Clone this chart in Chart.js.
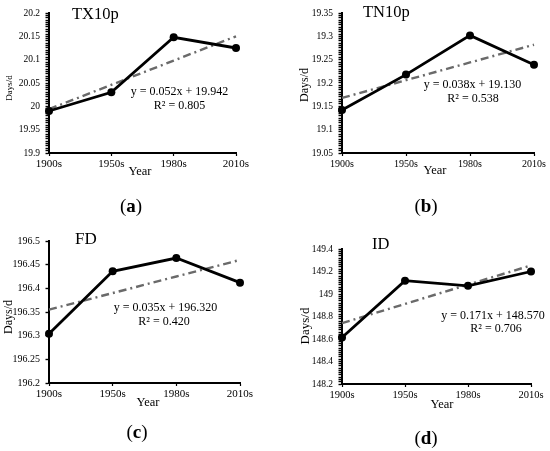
<!DOCTYPE html>
<html>
<head>
<meta charset="utf-8">
<script src="https://cdn.jsdelivr.net/npm/chart.js@4.4.1/dist/chart.umd.min.js"></script>
<style>
  body { margin: 0; background: #fff; width: 550px; height: 451px; position: relative; overflow: hidden; }
  canvas { position: absolute; }
  .cap { position: absolute; font: 19px "Liberation Serif", serif; transform: translate(-50%, -50%); white-space: nowrap; color: #000; }
</style>
</head>
<body>
<canvas id="a" width="275" height="225" style="left:0;top:0"></canvas>
<canvas id="b" width="275" height="225" style="left:275px;top:0"></canvas>
<canvas id="c" width="275" height="226" style="left:0;top:225px"></canvas>
<canvas id="d" width="275" height="226" style="left:275px;top:225px"></canvas>
<div class="cap" style="left:131px;top:206px">(<b>a</b>)</div>
<div class="cap" style="left:426px;top:206px">(<b>b</b>)</div>
<div class="cap" style="left:137px;top:432px">(<b>c</b>)</div>
<div class="cap" style="left:426px;top:438px">(<b>d</b>)</div>
<script>
// data
const decades = ['1900s', '1950s', '1980s', '2010s'];

const tx10p = [19.99, 20.03, 20.148, 20.125];
const tx10pTrend = [19.994, 20.046, 20.098, 20.15];
const tx10pRange = [19.9, 20.2];

const tn10p = [19.142, 19.218, 19.302, 19.239];
const tn10pTrend = [19.168, 19.206, 19.244, 19.282];
const tn10pRange = [19.05, 19.35];

const fd = [196.304, 196.436, 196.464, 196.412];
const fdTrend = [196.355, 196.39, 196.425, 196.46];
const fdRange = [196.2, 196.5];

const id = [148.613, 149.118, 149.073, 149.2];
const idTrend = [148.741, 148.912, 149.083, 149.254];
const idRange = [148.2, 149.4];

const titles = ['TX10p', 'TN10p', 'FD', 'ID'];
const equations = ['y = 0.052x + 19.942', 'y = 0.038x + 19.130', 'y = 0.035x + 196.320', 'y = 0.171x + 148.570'];
const rSquared = ['R² = 0.805', 'R² = 0.538', 'R² = 0.420', 'R² = 0.706'];

const serif = '"Liberation Serif", "Times New Roman", serif';

// draws the in-panel texts (title, equation, axis titles)
const textPlugin = (items) => ({
  id: 'panelText',
  afterDraw(chart) {
    const ctx = chart.ctx;
    ctx.save();
    ctx.fillStyle = '#000';
    ctx.textBaseline = 'middle';
    items.forEach(t => {
      ctx.font = t.size + 'px ' + serif;
      ctx.textAlign = t.align || 'center';
      if (t.rot) {
        ctx.save();
        ctx.translate(t.x, t.y);
        ctx.rotate(-Math.PI / 2);
        ctx.fillText(t.text, 0, 0);
        ctx.restore();
      } else {
        ctx.fillText(t.text, t.x, t.y);
      }
    });
    ctx.restore();
  }
});

function makePanel(canvasId, p) {
  const canvas = document.getElementById(canvasId);
  const W = canvas.width, H = canvas.height;
  const [left, top, right, bottom] = p.area;
  new Chart(canvas, {
    type: 'line',
    data: {
      labels: decades,
      datasets: [
        { data: p.values, borderColor: '#000', backgroundColor: '#000', borderWidth: 2.8,
          pointRadius: 4, pointBorderWidth: 0, tension: 0, clip: false },
        { data: p.trend, borderColor: '#6a6a6a', borderWidth: 2.4, borderDash: [8, 4, 2, 4],
          pointRadius: 0, tension: 0, clip: false }
      ]
    },
    options: {
      responsive: false,
      animation: false,
      events: [],
      layout: { padding: { left: 0, top: top, right: W - right, bottom: 0 } },
      plugins: { legend: { display: false }, tooltip: { enabled: false } },
      scales: {
        x: {
          offset: false,
          grid: { drawOnChartArea: false, tickLength: 3, tickColor: '#000', tickWidth: 1.2 },
          border: { color: '#000', width: 2 },
          ticks: { color: '#000', font: { family: serif, size: p.xFont }, padding: 2, maxRotation: 0, autoSkip: false },
          afterFit(s) { s.height = H - bottom; }
        },
        y: {
          min: p.range[0],
          max: p.range[1],
          grid: { drawOnChartArea: false, tickLength: 3.5, tickColor: '#000', tickWidth: 1.4 },
          border: { color: '#000', width: 2 },
          ticks: {
            stepSize: p.minor,
            autoSkip: false,
            color: '#000',
            padding: 5.5,
            font: { family: serif, size: p.yFont },
            callback(v) {
              const k = v / p.major;
              return Math.abs(k - Math.round(k)) < 1e-6 ? String(+v.toFixed(3)) : '';
            }
          },
          afterFit(s) { s.width = left; }
        }
      }
    },
    plugins: [textPlugin(p.texts)]
  });
}

makePanel('a', {
  values: tx10p, trend: tx10pTrend, range: tx10pRange, major: 0.05, minor: 0.005,
  area: [49, 13, 236, 153], xFont: 11, yFont: 9.5,
  texts: [
    { text: titles[0], x: 72, y: 15, size: 16.5, align: 'left' },
    { text: equations[0], x: 179.5, y: 92, size: 12 },
    { text: rSquared[0], x: 179.5, y: 106, size: 12 },
    { text: 'Days/d', x: 10, y: 88, size: 9, rot: true },
    { text: 'Year', x: 140, y: 172, size: 12.5 }
  ]
});

makePanel('b', {
  values: tn10p, trend: tn10pTrend, range: tn10pRange, major: 0.05, minor: 0.005,
  area: [67, 13, 259, 153], xFont: 10, yFont: 9.5,
  texts: [
    { text: titles[1], x: 88, y: 13, size: 16.5, align: 'left' },
    { text: equations[1], x: 197.5, y: 85, size: 12 },
    { text: rSquared[1], x: 198, y: 99, size: 12 },
    { text: 'Days/d', x: 30, y: 85, size: 12, rot: true },
    { text: 'Year', x: 160, y: 171, size: 12.5 }
  ]
});

makePanel('c', {
  values: fd, trend: fdTrend, range: fdRange, major: 0.05, minor: 0.05,
  area: [49, 16, 240, 158], xFont: 11, yFont: 10,
  texts: [
    { text: titles[2], x: 75, y: 15, size: 17, align: 'left' },
    { text: equations[2], x: 165.5, y: 83, size: 12 },
    { text: rSquared[2], x: 164, y: 97, size: 12 },
    { text: 'Days/d', x: 8.5, y: 92, size: 12, rot: true },
    { text: 'Year', x: 148, y: 178, size: 12.5 }
  ]
});

makePanel('d', {
  values: id, trend: idTrend, range: idRange, major: 0.2, minor: 0.02,
  area: [67, 24, 256, 159], xFont: 10.5, yFont: 9.5,
  texts: [
    { text: titles[3], x: 97, y: 20, size: 16.5, align: 'left' },
    { text: equations[3], x: 218, y: 91, size: 12 },
    { text: rSquared[3], x: 221, y: 104, size: 12 },
    { text: 'Days/d', x: 31, y: 101, size: 13, rot: true },
    { text: 'Year', x: 167, y: 180, size: 12.5 }
  ]
});
</script>
</body>
</html>
